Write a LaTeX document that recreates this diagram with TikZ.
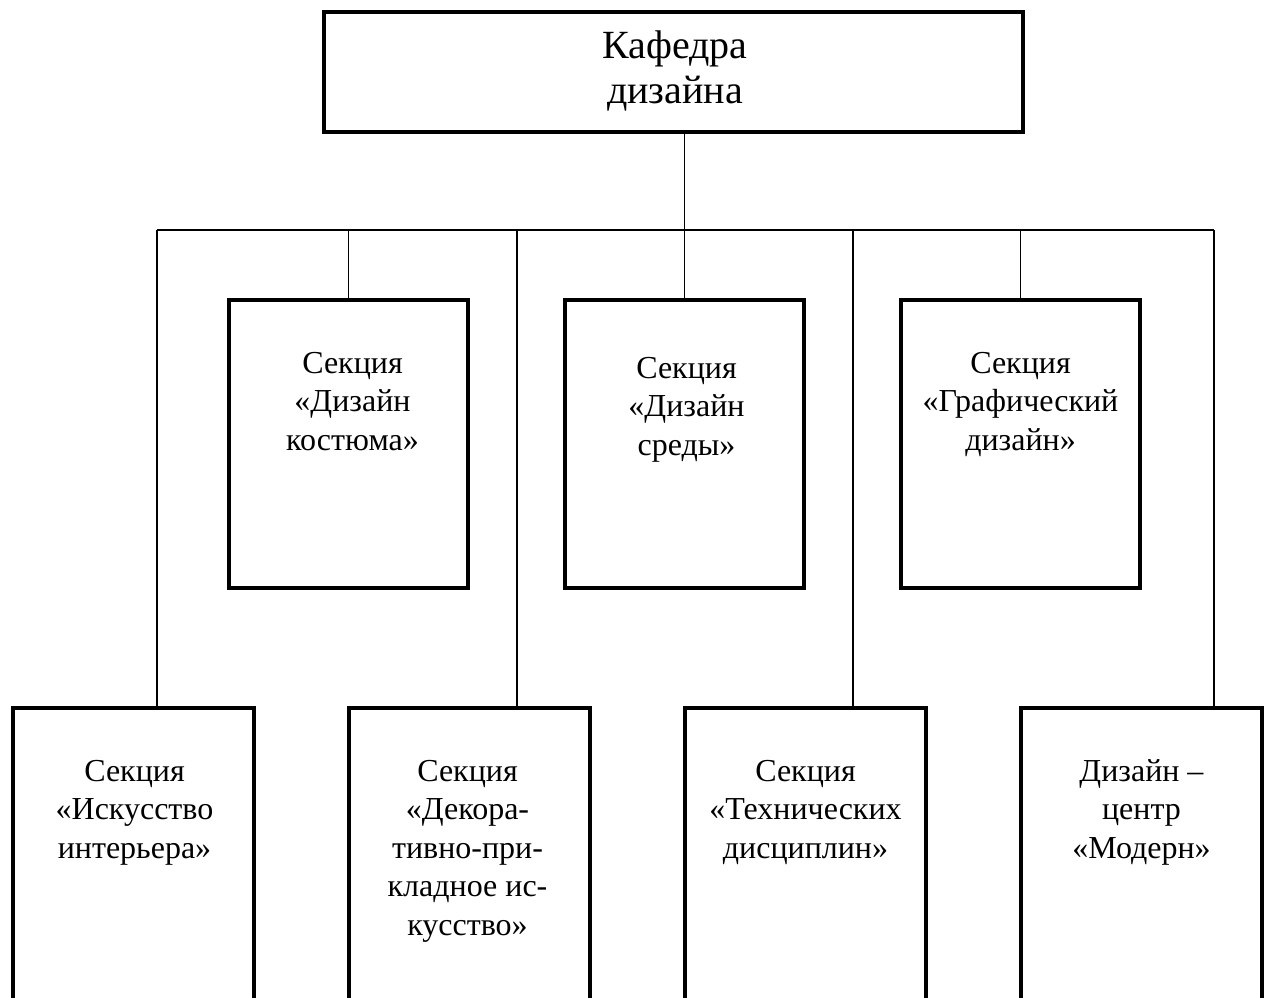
\documentclass[tikz,border=0pt]{standalone}
\usepackage{fontspec}
\setmainfont{Liberation Serif}
\begin{document}
\begin{tikzpicture}[x=1pt,y=-1pt,
  box/.style={draw, line width=4pt, rectangle, inner sep=0pt, outer sep=0pt},
  midbox/.style={box, minimum width=239pt, minimum height=288pt},
  lowbox/.style={box, minimum width=241pt, minimum height=352pt},
  conn/.style={line width=1.9pt},
  txt/.style={align=center, inner sep=0pt, anchor=north, font=\fontsize{32}{38.5}\selectfont},
  toptxt/.style={txt, font=\fontsize{40}{45}\selectfont}]
\useasboundingbox (0,0) rectangle (1268,997);
\clip (0,0) rectangle (1268,997);

% boxes
\node[box, minimum width=699pt, minimum height=120pt] (top) at (673.5,72) {};
\node[midbox] (m1) at (348.5,444) {};
\node[midbox] (m2) at (684.5,444) {};
\node[midbox] (m3) at (1020.5,444) {};
\node[lowbox] (b1) at (133.5,884) {};
\node[lowbox] (b2) at (469.5,884) {};
\node[lowbox] (b3) at (805.5,884) {};
\node[lowbox] (b4) at (1141.5,884) {};

% texts
\node[toptxt] (topt) at ([yshift=-14.5pt,xshift=1.5pt]top.north) {\strut Кафедра\\дизайна};
\node[txt] (m1t) at ([yshift=-46pt,xshift=4pt]m1.north) {\strut Секция\\«Дизайн\\костюма»};
\node[txt] (m2t) at ([yshift=-51pt,xshift=2pt]m2.north) {\strut Секция\\«Дизайн\\среды»};
\node[txt] (m3t) at ([yshift=-46pt]m3.north) {\strut Секция\\«Графический\\дизайн»};
\node[txt] (b1t) at ([yshift=-46pt,xshift=1pt]b1.north) {\strut Секция\\«Искусство\\интерьера»};
\node[txt] (b2t) at ([yshift=-46pt,xshift=-2pt]b2.north) {\strut Секция\\«Декора-\\тивно-при-\\кладное ис-\\кусство»};
\node[txt] (b3t) at ([yshift=-46pt]b3.north) {\strut Секция\\«Технических\\дисциплин»};
\node[txt] (b4t) at ([yshift=-46pt]b4.north) {\strut Дизайн –\\центр\\«Модерн»};

% connectors
\coordinate (jL) at (157,230);
\coordinate (j3) at (517,230);
\coordinate (j5) at (853,230);
\coordinate (jR) at (1214,230);
\draw[conn] (jL) -- (jR);
\draw[conn] (top.south -| m2.north) -- (m2.north);
\draw[conn] (jL) -- (jL |- b1.north);
\draw[conn] (m1.north |- jL) -- (m1.north);
\draw[conn] (j3) -- (j3 |- b2.north);
\draw[conn] (j5) -- (j5 |- b3.north);
\draw[conn] (m3.north |- jL) -- (m3.north);
\draw[conn] (jR) -- (jR |- b4.north);
\end{tikzpicture}
\end{document}
